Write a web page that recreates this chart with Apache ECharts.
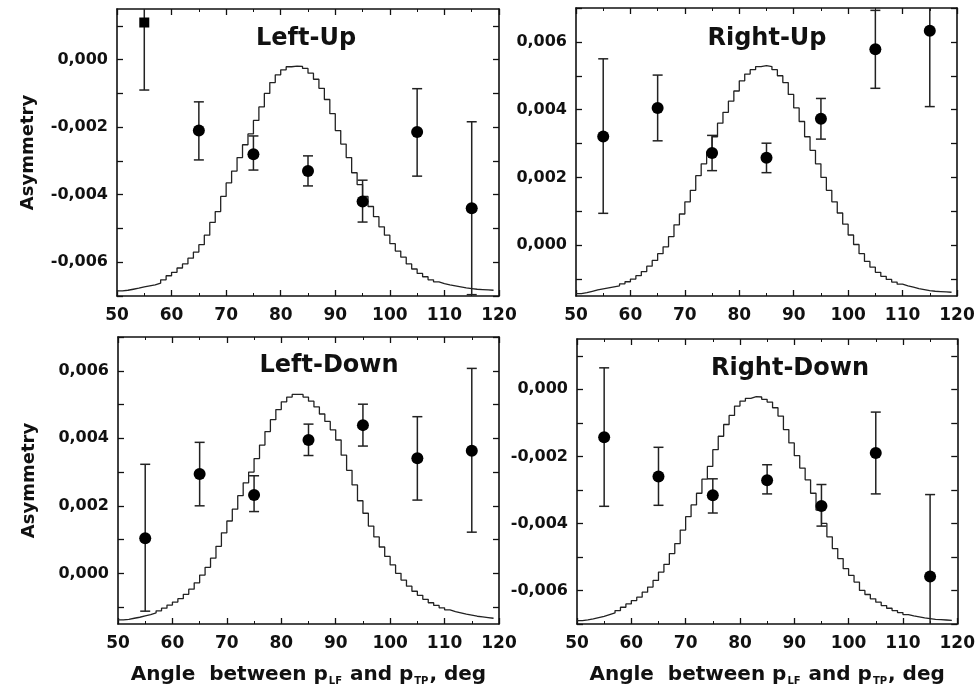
<!DOCTYPE html>
<html><head><meta charset="utf-8">
<script src="https://cdn.jsdelivr.net/npm/echarts@6/dist/echarts.min.js"></script>
<style>html,body{margin:0;padding:0;background:#fff}#c{width:978px;height:693px}</style>
</head><body><div id="c"></div>
<script>
// ---- data ----
const panelNames = ['Left-Up', 'Right-Up', 'Left-Down', 'Right-Down'];
const angles = [55, 65, 75, 85, 95, 105, 115];
const xTicks = [50, 60, 70, 80, 90, 100, 110, 120];

// y ticks / labels: panels with negative asymmetry (A) and positive asymmetry (B)
const yTicksA  = [-0.007, -0.006, -0.005, -0.004, -0.003, -0.002, -0.001, 0, 0.001];
const yLabelsA = [-0.006, -0.004, -0.002, 0];
const yTicksB  = [-0.001, 0, 0.001, 0.002, 0.003, 0.004, 0.005, 0.006, 0.007];
const yLabelsB = [0, 0.002, 0.004, 0.006];

const luVal = [0.0011, -0.0021, -0.0028, -0.0033, -0.0042, -0.00214, -0.0044];
const luLo  = [-0.0009, -0.00297, -0.00327, -0.00374, -0.00481, -0.00345, -0.00696];
const luHi  = [0.0031, -0.00125, -0.00226, -0.00285, -0.00357, -0.00086, -0.00184];

const ruVal = [0.00321, 0.00405, 0.00272, 0.00258, 0.00373, 0.00578, 0.00633];
const ruLo  = [0.00094, 0.00308, 0.0022, 0.00214, 0.00313, 0.00463, 0.00409];
const ruHi  = [0.0055, 0.00502, 0.00324, 0.00301, 0.00433, 0.00693, 0.00857];

const ldVal = [0.00104, 0.00294, 0.00232, 0.00395, 0.00439, 0.00341, 0.00363];
const ldLo  = [-0.00112, 0.002, 0.00183, 0.00349, 0.00377, 0.00217, 0.00122];
const ldHi  = [0.00323, 0.00388, 0.00289, 0.00442, 0.00501, 0.00464, 0.00607];

const rdVal = [-0.00143, -0.0026, -0.00316, -0.00271, -0.00348, -0.0019, -0.00558];
const rdLo  = [-0.00349, -0.00346, -0.00369, -0.00312, -0.00408, -0.00312, -0.00802];
const rdHi  = [0.00064, -0.00173, -0.00267, -0.00225, -0.00284, -0.00068, -0.00314];

// histogram bins (bin start angles, 1 degree wide)
const curveAngles = [50,51,52,53,54,55,56,57,58,59,60,61,62,63,64,65,66,67,68,69,
  70,71,72,73,74,75,76,77,78,79,80,81,82,83,84,85,86,87,88,89,
  90,91,92,93,94,95,96,97,98,99,100,101,102,103,104,105,106,107,108,109,
  110,111,112,113,114,115,116,117,118,119];

const luCurve = [-0.00685,-0.00683,-0.00680,-0.00677,-0.00673,-0.00670,-0.00667,-0.00662,-0.00652,-0.00640,
  -0.00630,-0.00617,-0.00605,-0.00588,-0.00570,-0.00548,-0.00520,-0.00482,-0.00450,-0.00405,
  -0.00365,-0.00330,-0.00290,-0.00252,-0.00220,-0.00180,-0.00140,-0.00100,-0.00068,-0.00045,
  -0.00030,-0.00021,-0.00019,-0.00020,-0.00026,-0.00040,-0.00058,-0.00085,-0.00118,-0.00160,
  -0.00210,-0.00250,-0.00290,-0.00335,-0.00370,-0.00405,-0.00435,-0.00465,-0.00495,-0.00520,
  -0.00545,-0.00567,-0.00585,-0.00605,-0.00620,-0.00633,-0.00643,-0.00652,-0.00658,-0.00663,
  -0.00667,-0.00670,-0.00673,-0.00676,-0.00678,-0.00680,-0.00681,-0.00682,-0.00683,-0.00683];

const ruCurve = [-0.00143,-0.00140,-0.00136,-0.00132,-0.00129,-0.00126,-0.00123,-0.00120,-0.00114,-0.00108,
  -0.00100,-0.00090,-0.00078,-0.00062,-0.00045,-0.00025,-0.00005,0.00025,0.00060,0.00092,
  0.00128,0.00162,0.00205,0.00240,0.00275,0.00320,0.00360,0.00392,0.00425,0.00455,
  0.00485,0.00505,0.00518,0.00527,0.00530,0.00527,0.00518,0.00500,0.00480,0.00445,
  0.00405,0.00365,0.00320,0.00280,0.00240,0.00200,0.00162,0.00128,0.00095,0.00062,
  0.00030,0.00002,-0.00025,-0.00048,-0.00065,-0.00080,-0.00092,-0.00101,-0.00109,-0.00115,
  -0.00120,-0.00124,-0.00128,-0.00131,-0.00134,-0.00136,-0.00137,-0.00138,-0.00139,-0.00140];

const ldCurve = [-0.00138,-0.00136,-0.00133,-0.00130,-0.00126,-0.00122,-0.00117,-0.00111,-0.00103,-0.00094,
  -0.00085,-0.00075,-0.00062,-0.00047,-0.00028,-0.00005,0.00018,0.00045,0.00080,0.00120,
  0.00155,0.00190,0.00230,0.00268,0.00300,0.00340,0.00380,0.00420,0.00455,0.00485,
  0.00508,0.00522,0.00530,0.00530,0.00522,0.00510,0.00493,0.00472,0.00450,0.00425,
  0.00395,0.00350,0.00305,0.00262,0.00215,0.00178,0.00140,0.00108,0.00078,0.00050,
  0.00025,0.00000,-0.00020,-0.00038,-0.00053,-0.00065,-0.00077,-0.00087,-0.00095,-0.00102,
  -0.00108,-0.00113,-0.00117,-0.00121,-0.00124,-0.00127,-0.00129,-0.00131,-0.00133,-0.00134];

const rdCurve = [-0.00690,-0.00688,-0.00685,-0.00681,-0.00677,-0.00672,-0.00667,-0.00660,-0.00650,-0.00640,
  -0.00630,-0.00620,-0.00605,-0.00590,-0.00570,-0.00545,-0.00522,-0.00490,-0.00460,-0.00420,
  -0.00380,-0.00345,-0.00310,-0.00268,-0.00230,-0.00180,-0.00140,-0.00105,-0.00078,-0.00050,
  -0.00035,-0.00027,-0.00022,-0.00023,-0.00030,-0.00038,-0.00055,-0.00080,-0.00120,-0.00160,
  -0.00198,-0.00235,-0.00270,-0.00310,-0.00360,-0.00400,-0.00440,-0.00475,-0.00505,-0.00535,
  -0.00555,-0.00575,-0.00600,-0.00612,-0.00625,-0.00635,-0.00645,-0.00653,-0.00660,-0.00666,
  -0.00672,-0.00676,-0.00679,-0.00682,-0.00684,-0.00686,-0.00687,-0.00688,-0.00689,-0.00690];

// ---- layout ----
const FONT = "'DejaVu Sans', 'Liberation Sans', Arial, sans-serif";
const INK = '#111';
const panels = [
  { name: panelNames[0], val: luVal, lo: luLo, hi: luHi, curve: luCurve, yMin: -0.007, yMax: 0.0015, ticks: yTicksA, labels: yLabelsA,
    grid: { left: 117, top: 9, width: 382, height: 287 }, title: [301, 22], leftLabel: true, bottomName: false, firstRect: true },
  { name: panelNames[1], val: ruVal, lo: ruLo, hi: ruHi, curve: ruCurve, yMin: -0.0015, yMax: 0.007, ticks: yTicksB, labels: yLabelsB,
    grid: { left: 576, top: 8, width: 381, height: 288 }, title: [762, 22], leftLabel: false, bottomName: false },
  { name: panelNames[2], val: ldVal, lo: ldLo, hi: ldHi, curve: ldCurve, yMin: -0.0015, yMax: 0.007, ticks: yTicksB, labels: yLabelsB,
    grid: { left: 118, top: 337, width: 381, height: 287 }, title: [324, 349], leftLabel: true, bottomName: true },
  { name: panelNames[3], val: rdVal, lo: rdLo, hi: rdHi, curve: rdCurve, yMin: -0.007, yMax: 0.0015, ticks: yTicksA, labels: yLabelsA,
    grid: { left: 577, top: 339, width: 381, height: 285 }, title: [785, 352], leftLabel: false, bottomName: true }
];

function fmtY(v) {
  const r = Math.round(v * 1000);
  return (r < 0 ? '-' : '') + Math.abs(r / 1000).toFixed(3).replace('.', ',');
}

const axisLine = { show: true, onZero: false, lineStyle: { color: INK, width: 1.6 } };
const tickStyle = { color: INK, width: 1.3 };
const minor = { show: true, splitNumber: 2, length: 3, lineStyle: { color: INK, width: 1 } };

const option = { animation: false, backgroundColor: '#fff', grid: [], xAxis: [], yAxis: [], series: [], title: [] };

panels.forEach((p, i) => {
  option.grid.push(Object.assign({ show: false }, p.grid));
  option.title.push({ text: p.name, left: p.title[0], top: p.title[1], textAlign: 'center',
    textStyle: { fontFamily: FONT, fontSize: 24, fontWeight: 'bold', color: INK } });

  const xb = { type: 'value', gridIndex: i, min: xTicks[0], max: xTicks[xTicks.length - 1], interval: xTicks[1] - xTicks[0],
    position: 'bottom', axisLine, axisTick: { show: true, inside: true, length: 6, lineStyle: tickStyle },
    minorTick: minor, splitLine: { show: false },
    axisLabel: { show: true, margin: 11, fontFamily: FONT, fontSize: 17, fontWeight: 'bold', color: INK } };
  if (p.bottomName) {
    Object.assign(xb, {
      name: '{a|Angle  between p}{b|LF}{a| and p}{b|TP}{a|, deg}', nameLocation: 'middle', nameGap: 40,
      nameTextStyle: { rich: {
        a: { fontFamily: FONT, fontSize: 20, fontWeight: 'bold', color: INK },
        b: { fontFamily: FONT, fontSize: 10, fontWeight: 'bold', color: INK, padding: [12, 1, 0, 1] } } }
    });
  }
  const xt = { type: 'value', gridIndex: i, min: xTicks[0], max: xTicks[xTicks.length - 1], interval: xTicks[1] - xTicks[0],
    position: 'top', axisLine, axisTick: { show: true, inside: true, length: 6, lineStyle: tickStyle },
    minorTick: minor, splitLine: { show: false }, axisLabel: { show: false } };
  option.xAxis.push(xb, xt);

  const yl = { type: 'value', gridIndex: i, min: p.yMin, max: p.yMax, position: 'left',
    axisLine, splitLine: { show: false },
    axisTick: { show: true, inside: true, length: 6, lineStyle: tickStyle, customValues: p.ticks },
    axisLabel: { show: true, margin: 9, customValues: p.labels, formatter: fmtY,
      fontFamily: FONT, fontSize: 16, fontWeight: 'bold', color: INK } };
  if (p.leftLabel) {
    Object.assign(yl, { name: 'Asymmetry', nameLocation: 'middle', nameGap: 80,
      nameTextStyle: { fontFamily: FONT, fontSize: 18, fontWeight: 'bold', color: INK } });
  }
  const yr = { type: 'value', gridIndex: i, min: p.yMin, max: p.yMax, position: 'right',
    axisLine, splitLine: { show: false },
    axisTick: { show: true, inside: true, length: 6, lineStyle: tickStyle, customValues: p.ticks },
    axisLabel: { show: false } };
  option.yAxis.push(yl, yr);

  const xi = 2 * i, yi = 2 * i;
  option.series.push({
    type: 'line', xAxisIndex: xi, yAxisIndex: yi, step: 'end', symbol: 'none', silent: true,
    data: curveAngles.map((a, j) => [a, p.curve[j]]),
    lineStyle: { color: '#222', width: 1.3 }, z: 2
  });
  const yMin = p.yMin, yMax = p.yMax;
  option.series.push({
    type: 'custom', xAxisIndex: xi, yAxisIndex: yi, silent: true, z: 3,
    data: angles.map((a, j) => [a, p.lo[j], p.hi[j]]),
    encode: { x: 0, y: [1, 2] },
    renderItem: function (params, api) {
      const x = api.value(0), lo = api.value(1), hi = api.value(2);
      const l = Math.max(lo, yMin), h = Math.min(hi, yMax);
      const a = api.coord([x, l]), b = api.coord([x, h]);
      const st = { stroke: '#222', lineWidth: 1.5 };
      const ch = [{ type: 'line', shape: { x1: a[0], y1: a[1], x2: b[0], y2: b[1] }, style: st }];
      if (lo >= yMin) ch.push({ type: 'line', shape: { x1: a[0] - 5, y1: a[1], x2: a[0] + 5, y2: a[1] }, style: st });
      if (hi <= yMax) ch.push({ type: 'line', shape: { x1: b[0] - 5, y1: b[1], x2: b[0] + 5, y2: b[1] }, style: st });
      return { type: 'group', children: ch };
    }
  });
  option.series.push({
    type: 'scatter', xAxisIndex: xi, yAxisIndex: yi, silent: true, z: 4,
    symbol: 'circle', symbolSize: 12, itemStyle: { color: '#000', opacity: 1 },
    data: angles.map((a, j) => (p.firstRect && j === 0) ? { value: [a, p.val[j]], symbol: 'rect', symbolSize: 10 } : [a, p.val[j]])
  });
});

const chart = echarts.init(document.getElementById('c'), null, { renderer: 'canvas' });
chart.setOption(option);
</script>
</body></html>
